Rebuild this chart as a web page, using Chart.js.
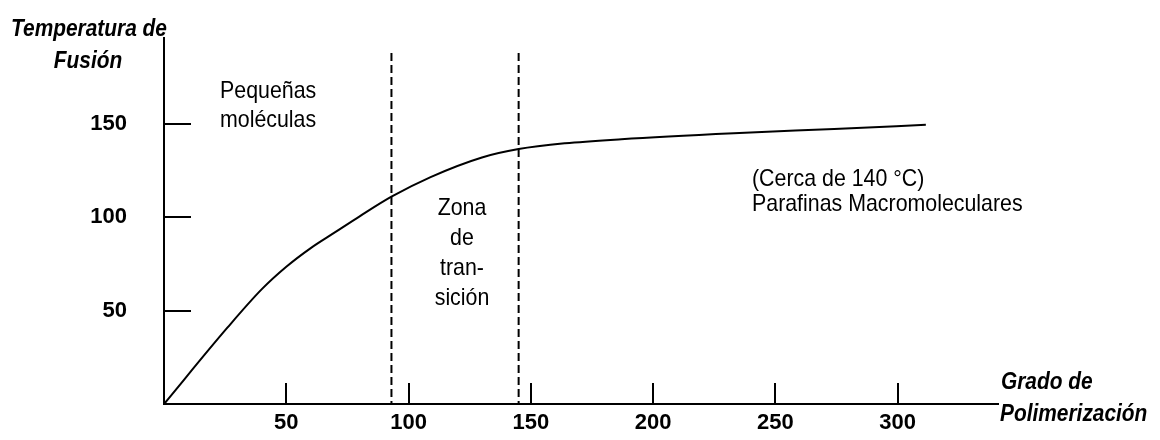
<!DOCTYPE html>
<html>
<head>
<meta charset="utf-8">
<script src="https://cdn.jsdelivr.net/npm/chart.js@4"></script>
<style>
  body { margin: 0; background: #fff; }
  #wrap { width: 1160px; height: 440px; }
</style>
</head>
<body>
<div id="wrap"><canvas id="fusion"></canvas></div>
<script>
// curva: grado de polimerizacion vs temperatura de fusion
const grado = [0, 26, 40, 50, 60, 70, 80, 93, 109, 130, 145, 164, 187, 233, 274, 311.5];
const temperatura = [0, 41, 61.5, 73.5, 83.5, 92, 100.5, 111, 121.5, 132, 136.5, 139.6, 141.8, 145, 147.3, 149.5];
// limites de la zona de transicion
const limites = [93, 145];
const limiteTop = 188;
const xTicks = [50, 100, 150, 200, 250, 300];
const yTicks = [50, 100, 150];

const FONT = '"Liberation Sans", Arial, sans-serif';

var curva = grado.map((g, i) => ({x: g, y: temperatura[i]}));
var lineas = limites.map(v => ({
    data: [{x: v, y: limiteTop}, {x: v, y: 0}],
    borderColor: '#000',
    borderWidth: 2,
    borderDash: [8, 4],
    pointRadius: 0,
    clip: false
}));

// ticks hacia adentro
const tickMarks = {
    id: 'tickMarks',
    afterDraw(chart) {
        const ctx = chart.ctx, a = chart.chartArea;
        const xs = chart.scales.x, ys = chart.scales.y;
        ctx.save();
        ctx.strokeStyle = '#000';
        ctx.lineWidth = 2;
        ctx.beginPath();
        xTicks.forEach(v => {
            const x = Math.round(xs.getPixelForValue(v));
            ctx.moveTo(x, a.bottom);
            ctx.lineTo(x, a.bottom - 21);
        });
        yTicks.forEach(v => {
            const y = Math.round(ys.getPixelForValue(v));
            ctx.moveTo(a.left, y);
            ctx.lineTo(a.left + 27, y);
        });
        ctx.stroke();
        ctx.restore();
    }
};

// texto algo estrecho, como el original
function texto(ctx, s, x, y, align, sx) {
    const w = ctx.measureText(s).width * sx;
    let x0 = x;
    if (align === 'center') x0 = x - w / 2;
    ctx.save();
    ctx.translate(x0, y);
    ctx.scale(sx, 1);
    ctx.textAlign = 'left';
    ctx.fillText(s, 0, 0);
    ctx.restore();
}

// textos del esquema
const textos = {
    id: 'textos',
    afterDraw(chart) {
        const ctx = chart.ctx;
        ctx.save();
        ctx.fillStyle = '#000';
        ctx.textBaseline = 'alphabetic';

        ctx.font = 'italic bold 24px ' + FONT;
        texto(ctx, 'Temperatura de', 89, 36, 'center', 0.87);
        texto(ctx, 'Fusión', 88, 68, 'center', 0.87);
        texto(ctx, 'Grado de', 1001, 389, 'left', 0.87);
        texto(ctx, 'Polimerización', 1000, 421, 'left', 0.87);

        ctx.font = '24px ' + FONT;
        texto(ctx, 'Pequeñas', 220, 98, 'left', 0.89);
        texto(ctx, 'moléculas', 220, 127, 'left', 0.89);
        texto(ctx, '(Cerca de 140 °C)', 752, 186, 'left', 0.89);
        texto(ctx, 'Parafinas Macromoleculares', 752, 211, 'left', 0.89);
        texto(ctx, 'Zona', 462, 215, 'center', 0.89);
        texto(ctx, 'de', 462, 245, 'center', 0.89);
        texto(ctx, 'tran-', 462, 275, 'center', 0.89);
        texto(ctx, 'sición', 462, 305, 'center', 0.89);
        ctx.restore();
    }
};

var ctx = document.getElementById('fusion').getContext('2d');
var chart = new Chart(ctx, {
    type: 'line',
    data: {
        datasets: [{
            data: curva,
            borderColor: '#000',
            borderWidth: 2,
            pointRadius: 0,
            cubicInterpolationMode: 'monotone',
            clip: false
        }].concat(lineas)
    },
    options: {
        responsive: true,
        maintainAspectRatio: false,
        animation: false,
        layout: {
            padding: {top: 38, right: 162, left: 0, bottom: 0}
        },
        plugins: {
            legend: {display: false},
            tooltip: {enabled: false}
        },
        scales: {
            x: {
                type: 'linear',
                min: 0,
                max: 341,
                afterBuildTicks: s => { s.ticks = xTicks.map(v => ({value: v})); },
                afterFit: s => { s.height = 36; s.paddingLeft = 0; s.paddingRight = 0; },
                grid: {display: false, drawTicks: false},
                border: {display: true, color: '#000', width: 2},
                ticks: {
                    color: '#000',
                    padding: 6,
                    maxRotation: 0,
                    font: {family: FONT, size: 22, weight: 'bold'}
                }
            },
            y: {
                type: 'linear',
                min: 0,
                max: 196,
                afterBuildTicks: s => { s.ticks = yTicks.map(v => ({value: v})); },
                afterFit: s => { s.width = 164; s.paddingTop = 0; s.paddingBottom = 0; },
                grid: {display: false, drawTicks: false},
                border: {display: true, color: '#000', width: 2},
                ticks: {
                    color: '#000',
                    padding: 37,
                    font: {family: FONT, size: 22, weight: 'bold'}
                }
            }
        }
    },
    plugins: [tickMarks, textos]
});
</script>
</body>
</html>
